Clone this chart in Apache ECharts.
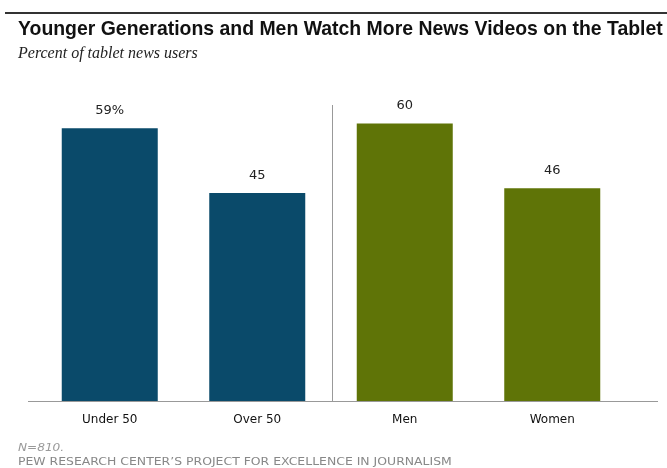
<!DOCTYPE html>
<html>
<head>
<meta charset="utf-8">
<script src="https://cdn.jsdelivr.net/npm/echarts@6/dist/echarts.min.js"></script>
<style>
  html, body { margin: 0; padding: 0; background: #fff; }
  #chart { width: 667px; height: 468px; }
</style>
</head>
<body>
<div id="chart"></div>
<script>
const categories = ['Under 50', 'Over 50', 'Men', 'Women'];
const values = [59, 45, 60, 46];
const valueLabels = ['59%', '45', '60', '46'];
const barColors = ['#0a4a6a', '#0a4a6a', '#5f7407', '#5f7407'];

const chart = echarts.init(document.getElementById('chart'));

// text pieces drawn as graphic text so they can be squeezed/stretched like the original
function label(text, x, y, font, fill, sx) {
  return {
    type: 'text',
    x: x,
    y: y,
    scaleX: sx || 1,
    style: {
      text: text,
      font: font,
      fill: fill,
      verticalAlign: 'middle',
    },
  };
}

const option = {
  animation: false,
  backgroundColor: '#fff',
  graphic: [
    {
      type: 'line',
      shape: { x1: 5, y1: 13, x2: 667, y2: 13 },
      style: { stroke: '#333', lineWidth: 2 },
    },
    label('Younger Generations and Men Watch More News Videos on the Tablet', 18, 29,
      'bold 21px "Liberation Sans", Arial, sans-serif', '#111', 0.925),
    label('Percent of tablet news users', 18, 54,
      'italic 16px "Liberation Serif", serif', '#222'),
    label('N=810.', 18, 448,
      'italic 11px "DejaVu Sans", sans-serif', '#999', 1.1),
    label('PEW RESEARCH CENTER\u2019S PROJECT FOR EXCELLENCE IN JOURNALISM', 18, 462,
      '11px "DejaVu Sans", sans-serif', '#888', 1.13),
    {
      type: 'line',
      shape: { x1: 28, y1: 401.5, x2: 658, y2: 401.5 },
      style: { stroke: '#999', lineWidth: 1 },
    },
  ],
  grid: {
    left: 36,
    right: 41,
    top: 105,
    bottom: 67,
  },
  xAxis: {
    type: 'category',
    data: categories,
    axisLine: { show: false },
    axisTick: { show: false },
    axisLabel: {
      fontFamily: 'DejaVu Sans, sans-serif',
      fontSize: 12,
      color: '#111',
      margin: 13,
    },
    splitLine: { show: false },
  },
  yAxis: {
    type: 'value',
    min: 0,
    max: 64,
    show: false,
    splitLine: { show: false },
  },
  series: [
    {
      type: 'bar',
      barWidth: 96,
      data: values.map((v, i) => ({
        value: v,
        itemStyle: { color: barColors[i] },
      })),
      label: {
        show: true,
        position: 'top',
        distance: 11,
        fontFamily: 'DejaVu Sans, sans-serif',
        fontSize: 13,
        color: '#222',
        formatter: (p) => valueLabels[p.dataIndex],
      },
    },
  ],
};

chart.setOption(option);

// divider between the age pair and the gender pair, placed through the axis scale
const xa = chart.convertToPixel({ gridIndex: 0 }, [categories[1], 0]);
const xb = chart.convertToPixel({ gridIndex: 0 }, [categories[2], 0]);
const topPx = chart.convertToPixel({ gridIndex: 0 }, [categories[1], 64]);
const midX = Math.round((xa[0] + xb[0]) / 2) + 1.5;
chart.setOption({
  graphic: option.graphic.concat([
    {
      type: 'line',
      shape: { x1: midX, y1: topPx[1], x2: midX, y2: xa[1] },
      style: { stroke: '#999', lineWidth: 1 },
    },
  ]),
});
</script>
</body>
</html>
